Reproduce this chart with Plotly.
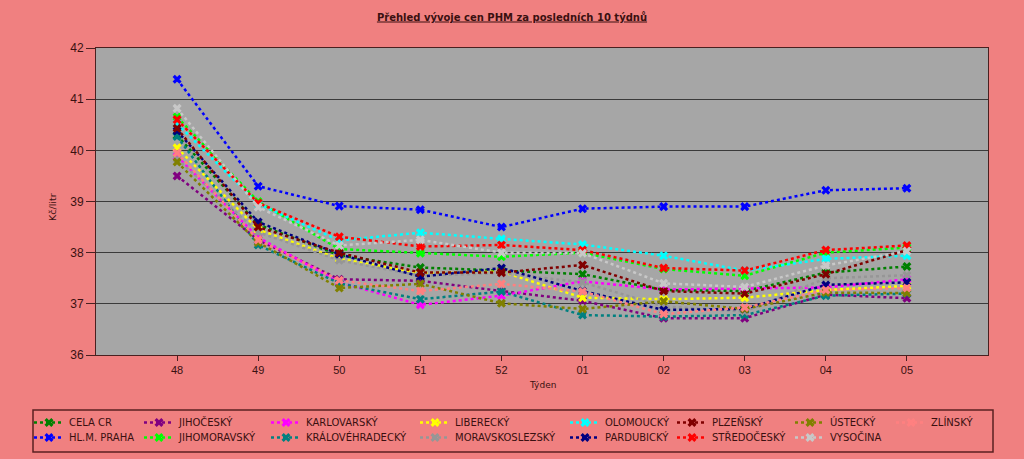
import plotly.graph_objects as go

# týdny (osa x)
tydny = ["48", "49", "50", "51", "52", "01", "02", "03", "04", "05"]

# ceny v Kč/litr
cela_cr = [40.29, 38.55, 37.95, 37.71, 37.65, 37.58, 37.27, 37.25, 37.61, 37.73]
praha = [41.39, 39.30, 38.91, 38.84, 38.50, 38.86, 38.90, 38.90, 39.22, 39.26]
jihocesky = [39.50, 38.25, 37.48, 37.45, 37.25, 37.06, 36.72, 36.72, 37.18, 37.11]
jihomoravsky = [40.65, 39.00, 38.07, 37.99, 37.92, 38.00, 37.68, 37.55, 38.00, 38.10]
karlovarsky = [39.88, 38.30, 37.42, 36.98, 37.16, 37.44, 37.28, 37.30, 37.32, 37.48]
kralovehradecky = [40.27, 38.15, 37.40, 37.09, 37.24, 36.78, 36.75, 36.78, 37.16, 37.20]
liberecky = [40.05, 38.45, 37.88, 37.60, 37.63, 37.12, 37.09, 37.12, 37.27, 37.35]
moravskoslezsky = [39.83, 38.40, 37.85, 37.55, 37.60, 37.42, 36.95, 36.85, 37.50, 37.56]
olomoucky = [40.52, 38.95, 38.24, 38.39, 38.27, 38.16, 37.94, 37.65, 37.88, 37.94]
pardubicky = [40.38, 38.60, 37.97, 37.53, 37.70, 37.25, 36.88, 36.90, 37.37, 37.42]
plzensky = [40.43, 38.50, 38.00, 37.61, 37.61, 37.76, 37.25, 37.20, 37.58, 38.05]
stredocesky = [40.60, 38.97, 38.31, 38.12, 38.15, 38.05, 37.70, 37.65, 38.05, 38.14]
ustecky = [39.77, 38.20, 37.31, 37.39, 37.01, 36.90, 37.05, 36.90, 37.22, 37.21]
vysocina = [40.82, 38.89, 38.14, 38.25, 38.00, 37.99, 37.40, 37.33, 37.75, 38.03]
zlinsky = [39.95, 38.25, 37.46, 37.25, 37.39, 37.24, 36.80, 36.93, 37.27, 37.31]

rady = [
    ("CELA CR", cela_cr, "#008000"),
    ("HL.M. PRAHA", praha, "#0000FF"),
    ("JIHOČESKÝ", jihocesky, "#800080"),
    ("JIHOMORAVSKÝ", jihomoravsky, "#00FF00"),
    ("KARLOVARSKÝ", karlovarsky, "#FF00FF"),
    ("KRÁLOVÉHRADECKÝ", kralovehradecky, "#008080"),
    ("LIBERECKÝ", liberecky, "#FFFF00"),
    ("MORAVSKOSLEZSKÝ", moravskoslezsky, "#969696"),
    ("OLOMOUCKÝ", olomoucky, "#00FFFF"),
    ("PARDUBICKÝ", pardubicky, "#000080"),
    ("PLZEŇSKÝ", plzensky, "#800000"),
    ("STŘEDOČESKÝ", stredocesky, "#FF0000"),
    ("ÚSTECKÝ", ustecky, "#808000"),
    ("VYSOČINA", vysocina, "#C8C8C8"),
    ("ZLÍNSKÝ", zlinsky, "#FF8080"),
]

W, H = 1024, 459
ML, MR, MT, MB = 96, 36, 48, 104
TXT = "#3a1010"

# x pozice textu v legendě (sloupce) a y řádků, v pixelech
leg_x = [69, 179, 306, 455, 605, 712, 830, 931]
leg_y = [422.5, 437.5]

fig = go.Figure()
layout_legends = {}
for i, (nazev, hodnoty, barva) in enumerate(rady):
    key = "legend" if i == 0 else "legend%d" % (i + 1)
    fig.add_trace(go.Scatter(
        x=tydny, y=hodnoty, name=nazev, mode="lines+markers",
        line=dict(color=barva, width=2.5, dash="dot"),
        marker=dict(symbol="x", size=8, color=barva, line=dict(width=0)),
        legend=key,
    ))
    col, row = i // 2, i % 2
    layout_legends[key] = dict(
        x=(leg_x[col] - 40) / W, y=1 - leg_y[row] / H,
        xref="container", yref="container",
        xanchor="left", yanchor="middle",
        bgcolor="rgba(0,0,0,0)", borderwidth=0, itemwidth=30,
        font=dict(family="DejaVu Sans", size=10, color=TXT),
    )

pw = W - ML - MR
ph = H - MT - MB

fig.update_layout(
    width=W, height=H,
    margin=dict(l=ML, r=MR, t=MT, b=MB, autoexpand=False),
    paper_bgcolor="#F08080",
    plot_bgcolor="#A6A6A6",
    showlegend=True,
    title=dict(text="<u>Přehled vývoje cen PHM za posledních 10 týdnů</u>",
               x=0.5, xref="container", y=1 - 17 / H, yref="container",
               xanchor="center", yanchor="middle",
               font=dict(family="DejaVu Sans", size=10, color=TXT, weight="bold")),
    xaxis=dict(type="category", range=[-1, 10], showgrid=False,
               showline=True, linecolor="#4a2020", linewidth=1, mirror=True,
               ticks="outside", ticklen=5, tickcolor="#4a2020",
               tickfont=dict(family="Liberation Sans", size=11, color=TXT)),
    yaxis=dict(range=[36, 42], dtick=1, showgrid=True, gridcolor="#3a3a3a", gridwidth=1,
               showline=True, linecolor="#4a2020", linewidth=1, mirror=True,
               ticks="outside", ticklen=9, tickcolor="#4a2020", zeroline=False,
               tickfont=dict(family="Liberation Sans", size=12, color=TXT)),
    annotations=[
        dict(text="Kč/litr", x=(52 - ML) / pw, y=(H - MB - 207) / ph, xref="paper", yref="paper",
             xanchor="center", yanchor="middle", textangle=-90, showarrow=False,
             font=dict(family="DejaVu Sans", size=9.5, color=TXT)),
        dict(text="Týden", x=0.5, y=(H - MB - 385) / ph, xref="paper", yref="paper",
             xanchor="center", yanchor="middle", showarrow=False,
             font=dict(family="DejaVu Sans", size=9, color=TXT)),
    ],
    shapes=[dict(type="rect", xref="paper", yref="paper",
                 x0=(33 - ML) / pw, x1=(993 - ML) / pw,
                 y0=(H - MB - 452) / ph, y1=(H - MB - 410) / ph,
                 line=dict(color="#5a2020", width=1.5))],
    **layout_legends,
)

# bez okraje stránky, aby graf seděl přesně v okně
fig.write_html("out.html", config={"displayModeBar": False},
               post_script="document.body.style.margin='0';"
                           "document.body.style.background='#F08080';")
